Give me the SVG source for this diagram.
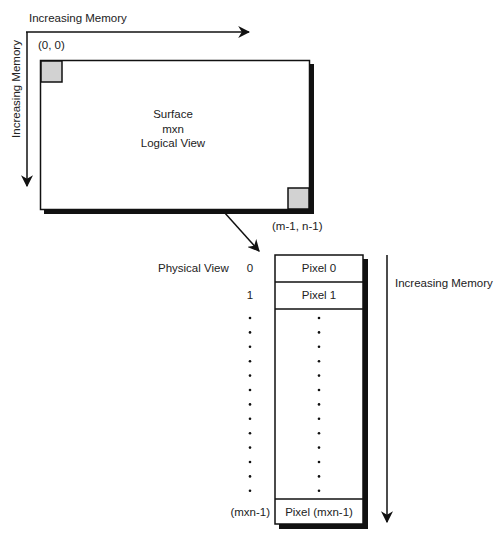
<svg xmlns="http://www.w3.org/2000/svg" width="500" height="549" viewBox="0 0 500 549">
<style>
text{font-family:"Liberation Sans",Arial,sans-serif;font-size:11.5px;fill:#222}
.mid{text-anchor:middle}
.end{text-anchor:end}
.ln{stroke:#111;stroke-width:1.5;fill:none}
.box{fill:#fff;stroke:#111;stroke-width:1.5}
.shadow{fill:#111}
.sq{fill:#d2d2d2;stroke:#111;stroke-width:1.5}
.dot{fill:#111}
</style>
<defs>
<marker id="ah2" viewBox="0 0 10 10" refX="9" refY="5" markerWidth="12" markerHeight="12" markerUnits="userSpaceOnUse" orient="auto">
<path d="M0,0 L10,5 L0,10 L3,5 Z" fill="#111"/>
</marker>
</defs>
<g id="axes">
<text x="29" y="22">Increasing Memory</text>
<text class="mid" transform="translate(20,89) rotate(-90)">Increasing Memory</text>
</g>
<g id="surface">
<rect class="shadow" x="44" y="64" width="270" height="150"/>
<rect class="box" x="40.5" y="60.5" width="269" height="149"/>
<rect class="sq" x="41" y="61" width="21" height="21"/>
<rect class="sq" x="288" y="188" width="21" height="21"/>
<text class="mid" x="173" y="118">Surface</text>
<text class="mid" x="173" y="133">mxn</text>
<text class="mid" x="173" y="147">Logical View</text>
<text x="38" y="49">(0, 0)</text>
<text x="272" y="230">(m-1, n-1)</text>
</g>
<g id="physical">
<rect class="shadow" x="279" y="259" width="89" height="270"/>
<rect class="box" x="275" y="255" width="88" height="269"/>
<line class="ln" x1="275" y1="282" x2="363" y2="282"/>
<line class="ln" x1="275" y1="309" x2="363" y2="309"/>
<line class="ln" x1="275" y1="499" x2="363" y2="499"/>
<text class="mid" x="319" y="272">Pixel 0</text>
<text class="mid" x="319" y="299">Pixel 1</text>
<text class="mid" x="319" y="516">Pixel (mxn-1)</text>
<text x="158" y="272">Physical View</text>
<text class="mid" x="250" y="272">0</text>
<text class="mid" x="250" y="299">1</text>
<text class="end" x="270" y="516">(mxn-1)</text>
<text x="395" y="287">Increasing Memory</text>
<g id="dots">
<circle class="dot" cx="250" cy="318" r="1.3"/><circle class="dot" cx="319" cy="318" r="1.3"/>
<circle class="dot" cx="250" cy="332.4" r="1.3"/><circle class="dot" cx="319" cy="332.4" r="1.3"/>
<circle class="dot" cx="250" cy="346.8" r="1.3"/><circle class="dot" cx="319" cy="346.8" r="1.3"/>
<circle class="dot" cx="250" cy="361.2" r="1.3"/><circle class="dot" cx="319" cy="361.2" r="1.3"/>
<circle class="dot" cx="250" cy="375.6" r="1.3"/><circle class="dot" cx="319" cy="375.6" r="1.3"/>
<circle class="dot" cx="250" cy="390" r="1.3"/><circle class="dot" cx="319" cy="390" r="1.3"/>
<circle class="dot" cx="250" cy="404.4" r="1.3"/><circle class="dot" cx="319" cy="404.4" r="1.3"/>
<circle class="dot" cx="250" cy="418.8" r="1.3"/><circle class="dot" cx="319" cy="418.8" r="1.3"/>
<circle class="dot" cx="250" cy="433.2" r="1.3"/><circle class="dot" cx="319" cy="433.2" r="1.3"/>
<circle class="dot" cx="250" cy="447.6" r="1.3"/><circle class="dot" cx="319" cy="447.6" r="1.3"/>
<circle class="dot" cx="250" cy="462" r="1.3"/><circle class="dot" cx="319" cy="462" r="1.3"/>
<circle class="dot" cx="250" cy="476.4" r="1.3"/><circle class="dot" cx="319" cy="476.4" r="1.3"/>
<circle class="dot" cx="250" cy="490.8" r="1.3"/><circle class="dot" cx="319" cy="490.8" r="1.3"/>
</g>
</g>
<g id="connectors">
<line class="ln" x1="26" y1="32" x2="249" y2="32" marker-end="url(#ah2)"/>
<line class="ln" x1="27" y1="32" x2="27" y2="186" marker-end="url(#ah2)"/>
<line class="ln" x1="224" y1="212" x2="259" y2="251" marker-end="url(#ah2)"/>
<line class="ln" x1="387" y1="255" x2="387" y2="522" marker-end="url(#ah2)"/>
</g>
</svg>
